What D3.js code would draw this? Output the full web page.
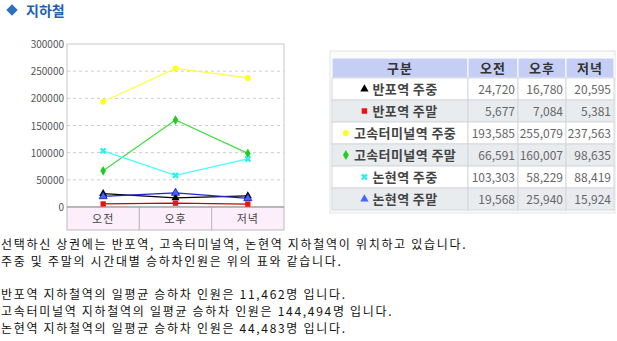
<!DOCTYPE html>
<html>
<head>
<meta charset="utf-8">
<script src="https://cdn.jsdelivr.net/npm/d3@7"></script>
<style>
  body { margin: 0; background: #fff; font-family: "Noto Sans CJK KR", sans-serif; }
  svg text { font-family: "Noto Sans CJK KR", sans-serif; }
</style>
</head>
<body>
<svg width="617" height="341"></svg>
<script>
const periods = ["오전", "오후", "저녁"];
const seriesNames = ["반포역 주중", "반포역 주말", "고속터미널역 주중", "고속터미널역 주말", "논현역 주중", "논현역 주말"];
const banpoWeekday = [24720, 16780, 20595];
const banpoWeekend = [5677, 7084, 5381];
const terminalWeekday = [193585, 255079, 237563];
const terminalWeekend = [66591, 160007, 98635];
const nonhyeonWeekday = [103303, 58229, 88419];
const nonhyeonWeekend = [19568, 25940, 15924];
const yTicks = [0, 50000, 100000, 150000, 200000, 250000, 300000];
const notes = [
  "선택하신 상권에는 반포역, 고속터미널역, 논현역 지하철역이 위치하고 있습니다.",
  "주중 및 주말의 시간대별 승하차인원은 위의 표와 같습니다.",
  "",
  "반포역 지하철역의 일평균 승하차 인원은 11,462명 입니다.",
  "고속터미널역 지하철역의 일평균 승하차 인원은 144,494명 입니다.",
  "논현역 지하철역의 일평균 승하차 인원은 44,483명 입니다."
];

const styles = [
  { line: "#000000", fill: "#000000", sym: d3.symbolTriangle },
  { line: "#cc0000", fill: "#ee1111", sym: d3.symbolSquare },
  { line: "#ffff44", fill: "#ffff22", sym: d3.symbolCircle },
  { line: "#44dd44", fill: "#22cc22", sym: d3.symbolDiamond },
  { line: "#44ffff", fill: "#33eeee", sym: d3.symbolCross },
  { line: "#2222cc", fill: "#4466ff", sym: d3.symbolTriangle }
];

const series = [banpoWeekday, banpoWeekend, terminalWeekday, terminalWeekend, nonhyeonWeekday, nonhyeonWeekend]
  .map((values, i) => ({ name: seriesNames[i], values, style: styles[i] }));

const svg = d3.select("svg");

// title
svg.append("path")
  .attr("transform", "translate(12,10) rotate(45)")
  .attr("d", "M-4,-4h8v8h-8z")
  .attr("fill", "#2f6fc0");
svg.append("text")
  .attr("x", 26).attr("y", 16)
  .attr("font-size", 14).attr("font-weight", "bold")
  .attr("fill", "#1f5fb0")
  .text("지하철");

// chart
const plotL = 67, plotR = 284, plotT = 44, plotB = 207, bandH = 23;
const x = d3.scaleBand().domain(periods).range([plotL, plotR]);
const y = d3.scaleLinear().domain([0, 300000]).range([plotB, plotT]);

const chart = svg.append("g");
chart.append("rect")
  .attr("x", plotL).attr("y", plotT).attr("width", plotR - plotL).attr("height", plotB - plotT)
  .attr("fill", "#fff").attr("stroke", "#c8c8c8");

chart.selectAll(".grid")
  .data(yTicks.filter(t => t > 0 && t < 300000))
  .join("line")
  .attr("x1", plotL).attr("x2", plotR)
  .attr("y1", d => y(d)).attr("y2", d => y(d))
  .attr("stroke", "#cccccc").attr("stroke-dasharray", "3,3");

chart.selectAll(".ylab")
  .data(yTicks)
  .join("text")
  .attr("x", plotL - 3).attr("y", d => y(d) + 4)
  .attr("text-anchor", "end")
  .attr("font-family", "Arial, 'Liberation Sans', sans-serif")
  .attr("font-size", 10).attr("fill", "#555")
  .text(d => d);

// category band
chart.selectAll(".band")
  .data(periods)
  .join("rect")
  .attr("x", d => x(d)).attr("y", plotB)
  .attr("width", x.bandwidth()).attr("height", bandH)
  .attr("fill", "#fdeefb").attr("stroke", "#bbbbbb");
chart.selectAll(".cat")
  .data(periods)
  .join("text")
  .attr("x", d => x(d) + x.bandwidth() / 2).attr("y", plotB + 16)
  .attr("text-anchor", "middle")
  .attr("font-size", 11).attr("letter-spacing", 1).attr("fill", "#444")
  .text(d => d);
chart.append("line")
  .attr("x1", plotL).attr("x2", plotR).attr("y1", plotB).attr("y2", plotB)
  .attr("stroke", "#999");

const line = d3.line()
  .x((d, i) => x(periods[i]) + x.bandwidth() / 2)
  .y(d => y(d));

const sg = chart.selectAll(".series")
  .data(series)
  .join("g");
sg.append("path")
  .attr("d", d => line(d.values))
  .attr("fill", "none")
  .attr("stroke", d => d.style.line)
  .attr("stroke-width", 1.2);
sg.each(function(s) {
  d3.select(this).selectAll("path.pt")
    .data(s.values)
    .join("path")
    .attr("class", "pt")
    .attr("transform", (d, i) => `translate(${x(periods[i]) + x.bandwidth() / 2},${y(d)}) ${s.style.sym === d3.symbolCross ? "rotate(45)" : ""}`)
    .attr("d", d3.symbol().type(s.style.sym).size(28))
    .attr("fill", s.style.fill)
    .attr("stroke", s.style.line === "#2222cc" ? "#1111aa" : "none")
    .attr("stroke-width", 0.8);
});

// table
const tx = [332, 468, 518, 566, 614];
const headY = 58, headH = 20, rowH = 22;
const table = svg.append("g");
table.append("rect")
  .attr("x", 330).attr("y", 51).attr("width", 285).attr("height", headY - 51 + headH + rowH * series.length + 3)
  .attr("fill", "#fbfbfb").attr("stroke", "#e4e4e4");

const header = ["구분", ...periods];
table.selectAll(".hcell")
  .data(header)
  .join("rect")
  .attr("x", (d, i) => tx[i]).attr("y", headY)
  .attr("width", (d, i) => tx[i + 1] - tx[i]).attr("height", headH)
  .attr("fill", "#c5cff5").attr("stroke", "#ffffff");
table.selectAll(".htext")
  .data(header)
  .join("text")
  .attr("x", (d, i) => (tx[i] + tx[i + 1]) / 2).attr("y", headY + 15)
  .attr("text-anchor", "middle")
  .attr("font-size", 13).attr("font-weight", "bold").attr("letter-spacing", 1).attr("fill", "#333")
  .text(d => d);

const fmt = d3.format(",");
const rows = table.selectAll(".row")
  .data(series)
  .join("g")
  .attr("transform", (d, i) => `translate(0,${headY + headH + i * rowH})`);
rows.each(function(s, r) {
  const g = d3.select(this);
  const bg = r % 2 === 0 ? "#ffffff" : "#e9ecef";
  [0, 1, 2, 3].forEach(c => {
    g.append("rect")
      .attr("x", tx[c]).attr("y", 0)
      .attr("width", tx[c + 1] - tx[c]).attr("height", rowH)
      .attr("fill", bg).attr("stroke", "#d4d8dc");
  });
  const label = g.append("text")
    .attr("x", (tx[0] + tx[1]) / 2 + 5).attr("y", 16)
    .attr("text-anchor", "middle")
    .attr("font-size", 13).attr("font-weight", "bold").attr("letter-spacing", 0.4).attr("fill", "#444")
    .text(s.name);
  const w = label.node().getComputedTextLength();
  const cx = (tx[0] + tx[1]) / 2 + 5 - w / 2 - 8;
  g.append("path")
    .attr("transform", `translate(${cx},11) ${s.style.sym === d3.symbolCross ? "rotate(45)" : ""}`)
    .attr("d", d3.symbol().type(s.style.sym).size(30))
    .attr("fill", s.style.fill);
  g.selectAll(".val")
    .data(s.values)
    .join("text")
    .attr("x", (d, i) => tx[i + 2] - 3).attr("y", 16)
    .attr("text-anchor", "end")
    .attr("font-size", 12).attr("fill", "#666")
    .text(d => fmt(d));
});

// notes
svg.selectAll(".note")
  .data(notes)
  .join("text")
  .attr("x", 1).attr("y", (d, i) => 249 + i * 16.8)
  .attr("font-size", 12).attr("letter-spacing", 1.7).attr("fill", "#111")
  .text(d => d);
</script>
</body>
</html>
